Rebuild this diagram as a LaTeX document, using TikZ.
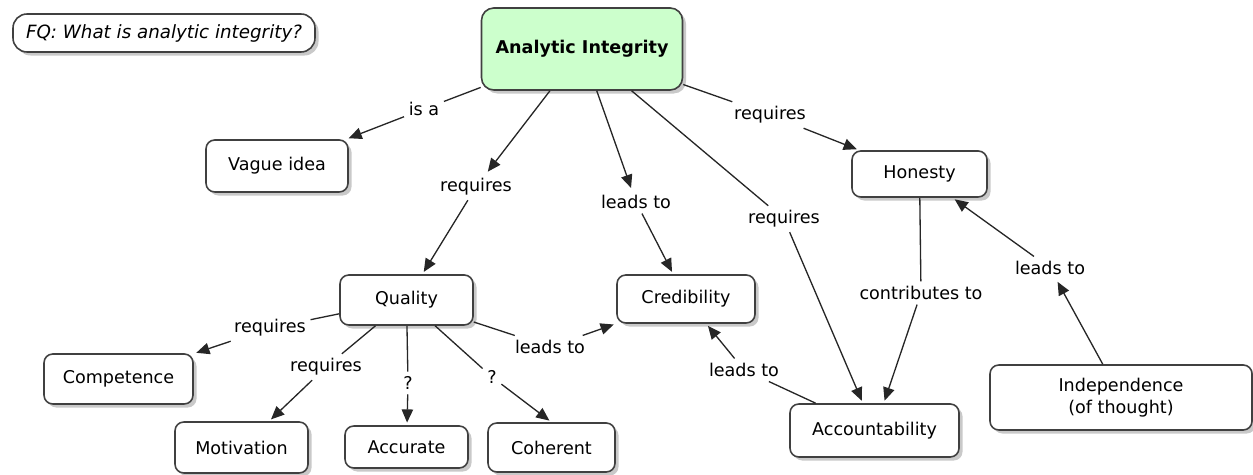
\documentclass[tikz,border=0pt]{standalone}
\usepackage{fontspec}
\setmainfont{DejaVu Sans}
\usetikzlibrary{shadows,arrows.meta}
\definecolor{aigreen}{HTML}{CCFFCC}
\begin{document}
\begin{tikzpicture}[x=0.02cm,y=-0.02cm,
  base/.style={font=\fontsize{10}{12.5}\selectfont},
  box/.style={base, draw=black!75, line width=0.9pt, rounded corners=5pt, fill=white, align=center, inner sep=0pt,
     drop shadow={shadow xshift=2pt, shadow yshift=-2pt, fill=black!30, opacity=0.7}},
  sz/.style 2 args={minimum width=#1*0.02cm, minimum height=#2*0.02cm},
  lbl/.style={base, inner sep=2.5pt},
  con/.style={draw=black!85, line width=0.75pt},
  arr/.style={con, -{Triangle[length=7.5pt,width=6.5pt]}, shorten >=1.5pt},
]
\useasboundingbox (0,0) rectangle (1253,475);

% concept boxes
\node[box, sz={302}{38}, rounded corners=8pt] (fq) at (164,33) {\fontsize{10.4}{12.5}\selectfont\itshape FQ: What is analytic integrity?};
\node[box, sz={201}{82}, fill=aigreen, rounded corners=7pt] (ai) at (582,49) {\bfseries Analytic Integrity};
\node[box, sz={142}{52}] (vague) at (277,166) {Vague idea};
\node[box, sz={135}{46}] (hon) at (919.5,174) {Honesty};
\node[box, sz={133}{50}] (qual) at (406.5,300) {Quality};
\node[box, sz={138}{48}] (cred) at (686,299) {Credibility};
\node[box, sz={149}{50}] (comp) at (118.5,379) {Competence};
\node[box, sz={133}{51}] (mot) at (241.5,447.5) {Motivation};
\node[box, sz={123}{42}] (accu) at (406.5,447) {Accurate};
\node[box, sz={127}{49}] (coh) at (551.5,447.5) {Coherent};
\node[box, sz={169}{53}] (acct) at (874.5,430.5) {Accountability};
\node[box, sz={262}{65}] (ind) at (1121,397.5) {Independence\\(of thought)};

% linking phrases
\node[lbl] (lisa) at (424,109) {is a};
\node[lbl] (lreqQ) at (476,187) {requires};
\node[lbl] (lleadC) at (636,202) {leads to};
\node[lbl] (lreqA) at (784,219) {requires};
\node[lbl] (lreqH) at (770,115) {requires};
\node[lbl] (lcon) at (921,293) {contributes to};
\node[lbl] (lleadH) at (1050,268) {leads to};
\node[lbl] (lreqC) at (270,328) {requires};
\node[lbl] (lreqM) at (326,367) {requires};
\node[lbl] (lq1) at (408,383) {?};
\node[lbl] (lq2) at (492,377) {?};
\node[lbl] (lleadQ) at (550,347) {leads to};
\node[lbl] (lleadA) at (744,370) {leads to};

% connectors
\draw[con] (ai) -- (lisa);   \draw[arr] (lisa) -- (vague);
\draw[arr] (ai) -- (lreqQ);  \draw[arr] (lreqQ) -- (qual);
\draw[arr] (ai) -- (lleadC); \draw[arr] (lleadC) -- (cred);
\draw[con] (ai) -- (lreqA);  \draw[arr] (lreqA) -- (acct);
\draw[con] (ai) -- (lreqH);  \draw[arr] (lreqH) -- (hon);
\draw[con] (hon) -- (lcon);  \draw[arr] (lcon) -- (acct);
\draw[arr] (ind) -- (lleadH); \draw[arr] (lleadH) -- (hon);
\draw[con] (qual) -- (lreqC); \draw[arr] (lreqC) -- (comp);
\draw[con] (qual) -- (lreqM); \draw[arr] (lreqM) -- (mot);
\draw[con] (qual) -- (lq1);   \draw[arr] (lq1) -- (accu);
\draw[con] (qual) -- (lq2);   \draw[arr] (lq2) -- (coh.north);
\draw[con] (qual) -- (lleadQ); \draw[arr] (lleadQ) -- (cred);
\draw[con] (acct) -- (lleadA); \draw[arr] (lleadA) -- (cred);
\end{tikzpicture}
\end{document}
